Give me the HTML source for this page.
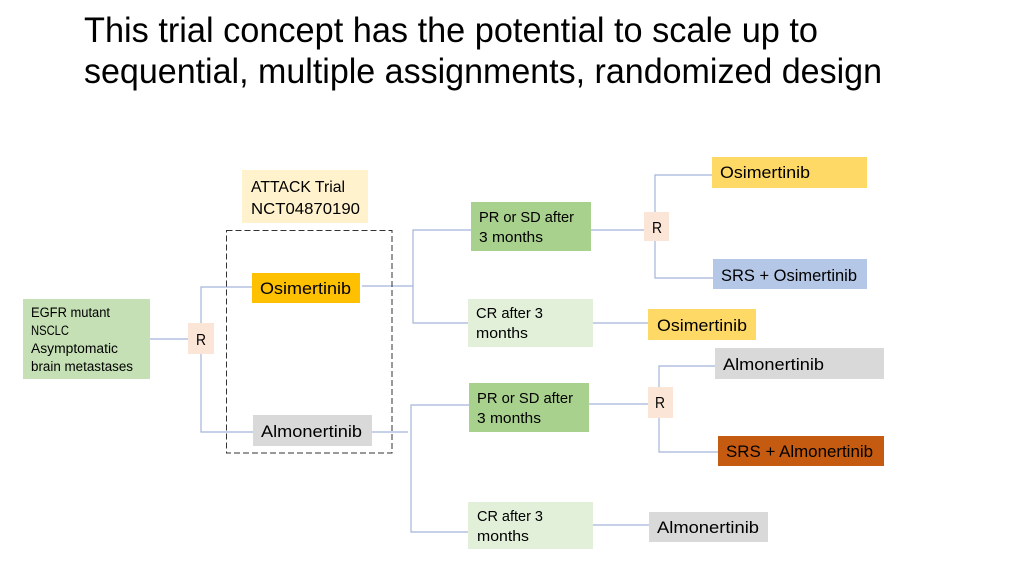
<!DOCTYPE html>
<html><head><meta charset="utf-8"><style>
html,body{margin:0;padding:0;background:#fff;}
svg{display:block;}
text{font-family:"Liberation Sans",sans-serif;fill:#000;}
</style></head><body>
<svg width="1024" height="576" viewBox="0 0 1024 576" xmlns="http://www.w3.org/2000/svg">
<rect width="1024" height="576" fill="#fff"/>
<!-- Title -->
<text x="84" y="42" font-size="35" textLength="734" lengthAdjust="spacingAndGlyphs">This trial concept has the potential to scale up to</text>
<text x="84" y="83" font-size="35" textLength="798" lengthAdjust="spacingAndGlyphs">sequential, multiple assignments, randomized design</text>

<!-- connectors -->
<g stroke="#a3b4d9" stroke-width="1.2" fill="none">
<line x1="150" y1="339" x2="188" y2="339"/>
<polyline points="252,287 201,287 201,323"/>
<polyline points="201,354 201,432 253,432"/>
<line x1="362" y1="286" x2="413" y2="286"/>
<polyline points="471,230 413,230 413,323 468,323"/>
<line x1="369" y1="432" x2="408" y2="432"/>
<polyline points="469,405 411,405 411,532 468,532"/>
<line x1="591" y1="230" x2="644" y2="230"/>
<polyline points="712,175 655,175 655,212"/>
<polyline points="655,241 655,278 713,278"/>
<line x1="593" y1="323" x2="648" y2="323"/>
<line x1="589" y1="404" x2="648" y2="404"/>
<polyline points="715,366 659,366 659,387"/>
<polyline points="659,418 659,452 718,452"/>
<line x1="593" y1="525" x2="649" y2="525"/>
</g>

<!-- dashed box -->
<rect x="226.5" y="230.5" width="165.5" height="222.5" fill="none" stroke="#333" stroke-width="1" stroke-dasharray="6,3"/>

<!-- boxes -->
<rect x="242" y="170" width="126" height="53" fill="#fff2cc"/>
<rect x="252" y="273" width="108" height="30" fill="#ffc000"/>
<rect x="253" y="415" width="119" height="31" fill="#d9d9d9"/>
<rect x="23" y="299" width="127" height="80" fill="#c5e0b4"/>
<rect x="188" y="323" width="26" height="31" fill="#fbe5d6"/>
<rect x="471" y="202" width="120" height="49" fill="#a9d18e"/>
<rect x="468" y="299" width="125" height="48" fill="#e2f0d9"/>
<rect x="644" y="212" width="25" height="29" fill="#fbe5d6"/>
<rect x="712" y="157" width="155" height="31" fill="#ffd966"/>
<rect x="713" y="259" width="154" height="30" fill="#b4c7e7"/>
<rect x="648" y="309" width="108" height="31" fill="#ffd966"/>
<rect x="715" y="348" width="169" height="31" fill="#d9d9d9"/>
<rect x="469" y="383" width="120" height="49" fill="#a9d18e"/>
<rect x="648" y="387" width="25" height="31" fill="#fbe5d6"/>
<rect x="718" y="436" width="166" height="30" fill="#c55a11"/>
<rect x="468" y="502" width="125" height="47" fill="#e2f0d9"/>
<rect x="649" y="512" width="119" height="30" fill="#d9d9d9"/>

<!-- labels -->
<text x="251" y="192" font-size="16" textLength="94" lengthAdjust="spacingAndGlyphs">ATTACK Trial</text>
<text x="251" y="214" font-size="16" textLength="109" lengthAdjust="spacingAndGlyphs">NCT04870190</text>
<text x="260" y="294" font-size="17" textLength="91" lengthAdjust="spacingAndGlyphs">Osimertinib</text>
<text x="261" y="437" font-size="17" textLength="101" lengthAdjust="spacingAndGlyphs">Almonertinib</text>

<text x="31" y="317" font-size="13.5" textLength="79" lengthAdjust="spacingAndGlyphs">EGFR mutant</text>
<text x="31" y="335" font-size="13.5" textLength="38" lengthAdjust="spacingAndGlyphs">NSCLC</text>
<text x="31" y="353" font-size="13.5" textLength="87" lengthAdjust="spacingAndGlyphs">Asymptomatic</text>
<text x="31" y="371" font-size="13.5" textLength="102" lengthAdjust="spacingAndGlyphs">brain metastases</text>

<text x="196" y="345" font-size="16" textLength="10" lengthAdjust="spacingAndGlyphs">R</text>
<text x="652" y="233" font-size="16" textLength="10" lengthAdjust="spacingAndGlyphs">R</text>
<text x="655" y="408" font-size="16" textLength="10" lengthAdjust="spacingAndGlyphs">R</text>

<text x="479" y="222" font-size="14.5" textLength="95" lengthAdjust="spacingAndGlyphs">PR or SD after</text>
<text x="479" y="242" font-size="14.5" textLength="64" lengthAdjust="spacingAndGlyphs">3 months</text>
<text x="476" y="318" font-size="14.5" textLength="67" lengthAdjust="spacingAndGlyphs">CR after 3</text>
<text x="476" y="338" font-size="14.5" textLength="52" lengthAdjust="spacingAndGlyphs">months</text>

<text x="477" y="403" font-size="14.5" textLength="96" lengthAdjust="spacingAndGlyphs">PR or SD after</text>
<text x="477" y="423" font-size="14.5" textLength="64" lengthAdjust="spacingAndGlyphs">3 months</text>
<text x="477" y="521" font-size="14.5" textLength="66" lengthAdjust="spacingAndGlyphs">CR after 3</text>
<text x="477" y="541" font-size="14.5" textLength="52" lengthAdjust="spacingAndGlyphs">months</text>

<text x="720" y="178" font-size="17" textLength="90" lengthAdjust="spacingAndGlyphs">Osimertinib</text>
<text x="721" y="281" font-size="17" textLength="136" lengthAdjust="spacingAndGlyphs">SRS + Osimertinib</text>
<text x="657" y="331" font-size="17" textLength="90" lengthAdjust="spacingAndGlyphs">Osimertinib</text>
<text x="723" y="370" font-size="17" textLength="101" lengthAdjust="spacingAndGlyphs">Almonertinib</text>
<text x="726" y="457" font-size="17" textLength="147" lengthAdjust="spacingAndGlyphs">SRS + Almonertinib</text>
<text x="657" y="533" font-size="17" textLength="102" lengthAdjust="spacingAndGlyphs">Almonertinib</text>
</svg>
</body></html>
